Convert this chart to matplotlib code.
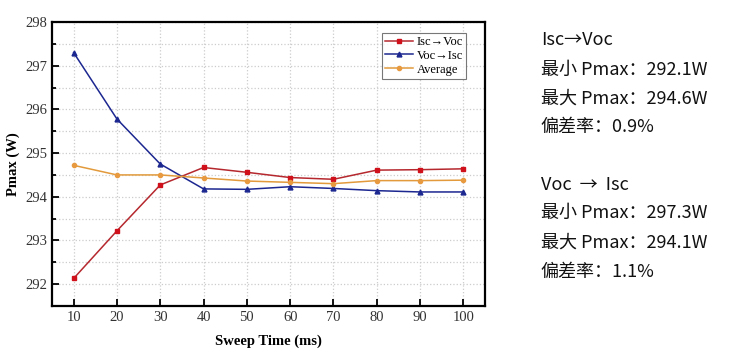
import matplotlib
matplotlib.use("Agg")
import matplotlib.pyplot as plt
from matplotlib.ticker import MultipleLocator

# ---------------------------
# Data
# ---------------------------
sweep_time = [10, 20, 30, 40, 50, 60, 70, 80, 90, 100]
isc_voc = [292.13, 293.22, 294.27, 294.67, 294.56, 294.44, 294.40, 294.61, 294.62, 294.64]
voc_isc = [297.30, 295.78, 294.75, 294.18, 294.17, 294.23, 294.19, 294.14, 294.11, 294.11]
average = [294.72, 294.50, 294.50, 294.43, 294.36, 294.33, 294.30, 294.37, 294.37, 294.38]

series_labels = ["Isc\u2192Voc", "Voc\u2192Isc", "Average"]

note_lines = [
    "Isc\u2192Voc",
    "最小 Pmax：292.1W",
    "最大 Pmax：294.6W",
    "偏差率：0.9%",
    "",
    "Voc  \u2192  Isc",
    "最小 Pmax：297.3W",
    "最大 Pmax：294.1W",
    "偏差率：1.1%",
]

serif = ["Liberation Serif", "DejaVu Serif"]

fig = plt.figure(figsize=(7.29, 3.61), dpi=100)
ax = fig.add_axes([0.0713, 0.1524, 0.594, 0.7866])

ax.plot(sweep_time, isc_voc, color="#b5282e", marker="s", markersize=3,
        markerfacecolor="#d0101a", markeredgecolor="#d0101a", linewidth=1.1,
        label=series_labels[0])
ax.plot(sweep_time, voc_isc, color="#1c2790", marker="^", markersize=3.5,
        markerfacecolor="#1c2790", markeredgecolor="#1c2790", linewidth=1.1,
        label=series_labels[1])
ax.plot(sweep_time, average, color="#e29a3c", marker="o", markersize=3,
        markerfacecolor="#e89a40", markeredgecolor="#e89a40", linewidth=1.1,
        label=series_labels[2])

ax.set_xlim(5, 105)
ax.set_ylim(291.5, 298)
ax.set_xticks(sweep_time)
ax.yaxis.set_major_locator(MultipleLocator(1))
ax.yaxis.set_minor_locator(MultipleLocator(0.5))

ax.grid(True, which="major", axis="x", linestyle=":", color="#cccccc", linewidth=0.9)
ax.grid(True, which="both", axis="y", linestyle=":", color="#cccccc", linewidth=0.9)
ax.set_axisbelow(True)

ax.tick_params(axis="both", which="both", direction="in", top=False, right=False,
               labelsize=10.5, width=1.3)
ax.tick_params(axis="both", which="major", length=5)
ax.tick_params(axis="y", which="minor", length=3)
for lab in ax.get_xticklabels() + ax.get_yticklabels():
    lab.set_family(serif)
    lab.set_color("#333333")
for sp in ax.spines.values():
    sp.set_linewidth(1.6)

ax.set_xlabel("Sweep Time (ms)", family=serif, fontweight="bold", fontsize=10.5, labelpad=8)
ax.set_ylabel("Pmax (W)", family=serif, fontweight="bold", fontsize=10.5, labelpad=4)

leg = ax.legend(loc="upper right", bbox_to_anchor=(0.965, 0.975), prop={"family": serif, "size": 9},
                frameon=True, fancybox=False, edgecolor="#555555", handlelength=2.2,
                borderpad=0.25, labelspacing=0.15, handletextpad=0.3, borderaxespad=0.3)
leg.get_frame().set_linewidth(0.8)

# Text block on the right
cjk = ["Noto Sans CJK SC", "DejaVu Sans"]
y_pos = [0.888, 0.806, 0.728, 0.648, 0.565, 0.488, 0.410, 0.327, 0.247]
for txt, yy in zip(note_lines, y_pos):
    if txt:
        fig.text(0.742, yy, txt, family=cjk, fontsize=13, va="center", ha="left", color="#111111")

fig.savefig("out.png", dpi=100)
